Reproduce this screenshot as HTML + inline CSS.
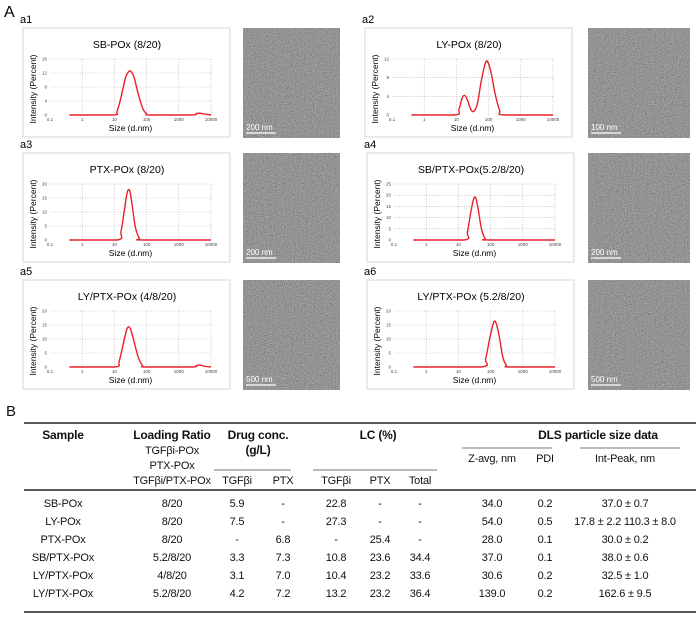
<!DOCTYPE html>
<html><head><meta charset="utf-8"><style>
html,body{margin:0;padding:0;background:#fff;}
svg{display:block;font-family:"Liberation Sans",Arial,sans-serif;}
.tb{font-family:"Liberation Sans",sans-serif;font-size:11px;fill:#111;letter-spacing:-0.2px;}
.hd{font-weight:bold;font-size:12px;}
</style></head><body>
<svg id="fig" width="700" height="625" viewBox="0 0 700 625" xmlns="http://www.w3.org/2000/svg">
<defs>
<filter id="noise" x="0" y="0" width="100%" height="100%">
<feTurbulence type="fractalNoise" baseFrequency="0.9" numOctaves="2" seed="3" result="n"/>
<feColorMatrix type="matrix" values="0.33 0.33 0.33 0 0  0.33 0.33 0.33 0 0  0.33 0.33 0.33 0 0  0 0 0 0 1"/>
<feComponentTransfer><feFuncR type="linear" slope="1.6" intercept="-0.3"/><feFuncG type="linear" slope="1.6" intercept="-0.3"/><feFuncB type="linear" slope="1.6" intercept="-0.3"/></feComponentTransfer>
</filter>
</defs>
<text x="4" y="17" font-size="16">A</text>
<g id="panels"></g>
<g id="table" class="tb">
<text x="6" y="416" font-size="15" style="letter-spacing:0">B</text>
<line x1="24" y1="423" x2="696" y2="423" stroke="#222" stroke-width="1.6"/>
<line x1="24" y1="490" x2="696" y2="490" stroke="#222" stroke-width="1.6"/>
<line x1="24" y1="612" x2="696" y2="612" stroke="#222" stroke-width="1.6"/>
<line x1="214" y1="470" x2="291" y2="470" stroke="#777" stroke-width="1"/>
<line x1="313" y1="470" x2="437" y2="470" stroke="#777" stroke-width="1"/>
<line x1="462" y1="448" x2="552" y2="448" stroke="#777" stroke-width="1"/>
<line x1="580" y1="448" x2="680" y2="448" stroke="#777" stroke-width="1"/>
<g text-anchor="middle">
<text class="hd" x="63" y="439">Sample</text>
<text class="hd" x="172" y="439">Loading Ratio</text>
<text x="172" y="454">TGFβi-POx</text>
<text x="172" y="469">PTX-POx</text>
<text x="172" y="484">TGFβi/PTX-POx</text>
<text class="hd" x="258" y="439">Drug conc.</text>
<text class="hd" x="258" y="454">(g/L)</text>
<text x="237" y="484">TGFβi</text><text x="283" y="484">PTX</text>
<text class="hd" x="378" y="439">LC (%)</text>
<text x="336" y="484">TGFβi</text><text x="380" y="484">PTX</text><text x="420" y="484">Total</text>
<text class="hd" x="598" y="439">DLS particle size data</text>
<text x="492" y="462">Z-avg, nm</text><text x="545" y="462">PDI</text><text x="625" y="462">Int-Peak, nm</text>
</g>
<g id="rows" text-anchor="middle"></g>
</g>
</svg>
<script>
// ---- DLS data (size nm, intensity %) ----
const titles=["SB-POx (8/20)","LY-POx (8/20)","PTX-POx (8/20)","SB/PTX-POx(5.2/8/20)","LY/PTX-POx (4/8/20)","LY/PTX-POx (5.2/8/20)"];
const labels=["a1","a2","a3","a4","a5","a6"];
const yMaxes=[16,12,20,25,20,20];
const yTicks=[[0,4,8,12,16],[0,4,8,12],[0,5,10,15,20],[0,5,10,15,20,25],[0,5,10,15,20],[0,5,10,15,20]];
const xTicks=[0.1,1,10,100,1000,10000];
const xTickLabels=["0.1","1","10","100","1000","10000"];
const scaleBars=["200 nm","100 nm","200 nm","200 nm","500 nm","500 nm"];
const sizes1=[0.4,9,12,16,22,30,40,55,75,100,130,2500,3500,4500,6000,10000];
const vals1=[0,0,1,5,10.5,12.6,11,6,2,0.3,0,0,0.4,0.5,0.3,0];
const sizes2=[0.4,9,12,15,18,22,28,35,45,60,80,95,120,160,220,300,10000];
const vals2=[0,0,1.2,3.6,4.2,3.2,1.2,0.8,2.5,7.5,11.2,11.3,9,4.5,1,0,0];
const sizes3=[0.4,12,16,20,25,30,36,45,60,75,10000];
const vals3=[0,0,3,10,17,17.5,12,4.5,0.5,0,0];
const sizes4=[0.4,15,19,24,30,35,42,52,68,85,10000];
const vals4=[0,0,3.5,12,18.5,18.5,13,5,0.5,0,0];
const sizes5=[0.4,10,14,19,25,31,40,55,75,95,2500,3500,4500,6000,10000];
const vals5=[0,0,2,8.5,13.8,13.8,9.5,3.5,0.5,0,0,0.5,0.7,0.3,0];
const sizes6=[0.4,50,70,95,125,150,185,240,310,380,10000];
const vals6=[0,0,3,10.5,16,15.5,11,3.5,0.5,0,0];
const sizeSets=[sizes1,sizes2,sizes3,sizes4,sizes5,sizes6];
const valSets=[vals1,vals2,vals3,vals4,vals5,vals6];
// ---- table data ----
const samples=["SB-POx","LY-POx","PTX-POx","SB/PTX-POx","LY/PTX-POx","LY/PTX-POx"];
const ratios=["8/20","8/20","8/20","5.2/8/20","4/8/20","5.2/8/20"];
const concT=["5.9","7.5","-","3.3","3.1","4.2"];
const concP=["-","-","6.8","7.3","7.0","7.2"];
const lcT=["22.8","27.3","-","10.8","10.4","13.2"];
const lcP=["-","-","25.4","23.6","23.2","23.2"];
const lcTot=["-","-","-","34.4","33.6","36.4"];
const zavg=["34.0","54.0","28.0","37.0","30.6","139.0"];
const pdi=["0.2","0.5","0.1","0.1","0.2","0.2"];
const peaks=["37.0 ± 0.7","17.8 ± 2.2  110.3 ± 8.0","30.0 ± 0.2","38.0 ± 0.6","32.5 ± 1.0","162.6 ± 9.5"];

const NS="http://www.w3.org/2000/svg";
function mk(tag,attrs,parent,txt){const e=document.createElementNS(NS,tag);for(const k in attrs)e.setAttribute(k,attrs[k]);if(txt!==undefined)e.textContent=txt;parent.appendChild(e);return e;}
const boxes=[[23,28],[365,28],[23,153],[367,153],[23,280],[367,280]];
const temX=[243,588];
const P=document.getElementById('panels');
for(let i=0;i<6;i++){
  const [L,T]=boxes[i];
  const g=mk('g',{},P);
  
  
  const lab=mk('text',{x:L-3,y:T-5,'font-size':11},g,labels[i]);
  
  
  mk('rect',{x:L,y:T,width:207,height:109,fill:'#fff',stroke:'#d6d6d6','stroke-width':1},g);
  const tt=mk('text',{x:L+104,y:T+20,'font-size':10.5,'text-anchor':'middle'},g,titles[i]);
  
  
  const x0=L+27,x1=L+188,yTop=T+31,y0=T+87;
  const xs=s=>x0+(Math.log10(s)+1)/5*(x1-x0);
  const ys=v=>y0-v/yMaxes[i]*(y0-yTop);
  xTicks.forEach((t,k)=>{
    const X=xs(t);
    if(k>0){const gl=mk('line',{x1:X,x2:X,y1:yTop,y2:y0,stroke:'#aaa','stroke-width':0.6,'stroke-dasharray':'1,1.5'},g);
      }
    const tl=mk('text',{x:X,y:y0+6,'font-size':4.5,'text-anchor':'middle',fill:'#444'},g,xTickLabels[k]);
    
  });
  yTicks[i].forEach(t=>{
    const Y=ys(t);
    if(t>0){const gl=mk('line',{x1:x0,x2:x1,y1:Y,y2:Y,stroke:'#aaa','stroke-width':0.6,'stroke-dasharray':'1,1.5'},g);
      }
    const tl=mk('text',{x:x0-3,y:Y+1.5,'font-size':4.5,'text-anchor':'end',fill:'#444'},g,String(t));
    
  });
  const yl=mk('text',{x:0,y:0,'font-size':8.5,'text-anchor':'middle',transform:`translate(${L+13},${(yTop+y0)/2+2}) rotate(-90)`},g,'Intensity (Percent)');
  
  const xl=mk('text',{x:(x0+x1)/2,y:T+103,'font-size':8.5,'text-anchor':'middle'},g,'Size (d.nm)');
  
  const pts=sizeSets[i].map((s,k)=>[xs(s),ys(valSets[i][k])]);
  let d='M'+pts[0][0].toFixed(2)+','+pts[0][1].toFixed(2);
  for(let k=0;k<pts.length-1;k++){
    const p0=pts[Math.max(0,k-1)],p1=pts[k],p2=pts[k+1],p3=pts[Math.min(pts.length-1,k+2)];
    const c1=[p1[0]+(p2[0]-p0[0])/6,p1[1]+(p2[1]-p0[1])/6],c2=[p2[0]-(p3[0]-p1[0])/6,p2[1]-(p3[1]-p1[1])/6];
    c1[1]=Math.min(c1[1],y0);c2[1]=Math.min(c2[1],y0);
    d+=`C${c1[0].toFixed(2)},${c1[1].toFixed(2)} ${c2[0].toFixed(2)},${c2[1].toFixed(2)} ${p2[0].toFixed(2)},${p2[1].toFixed(2)}`;
  }
  const cv=mk('path',{d:d,fill:'none',stroke:'#e8202a','stroke-width':1.4},g);
  
  
  const tx=temX[i%2],tw=(i%2)?102:97;
  const tg=mk('g',{},P);
  
  
  mk('rect',{x:tx,y:T,width:tw,height:110,fill:'#5c5c5c'},tg);
  mk('rect',{x:tx,y:T,width:tw,height:110,filter:'url(#noise)',opacity:0.6},tg);
  mk('line',{x1:tx+3,x2:tx+33,y1:T+105,y2:T+105,stroke:'#fff','stroke-width':1.2},tg);
  const sb=mk('text',{x:tx+3,y:T+102,'font-size':8,fill:'#fff'},tg,scaleBars[i]);
  
  
}
const R=document.getElementById('rows');
const colX=[63,172,237,283,336,380,420,492,545,625];
const cols=[samples,ratios,concT,concP,lcT,lcP,lcTot,zavg,pdi,peaks];
const rowY=[507,525,543,561,579,597];
for(let r=0;r<6;r++){
  const rg=mk('g',{},R);
  
  
  cols.forEach((c,k)=>{
    const t=mk('text',{x:colX[k],y:rowY[r]},rg,c[r]);
    
    
  });
}
</script>
</body></html>
